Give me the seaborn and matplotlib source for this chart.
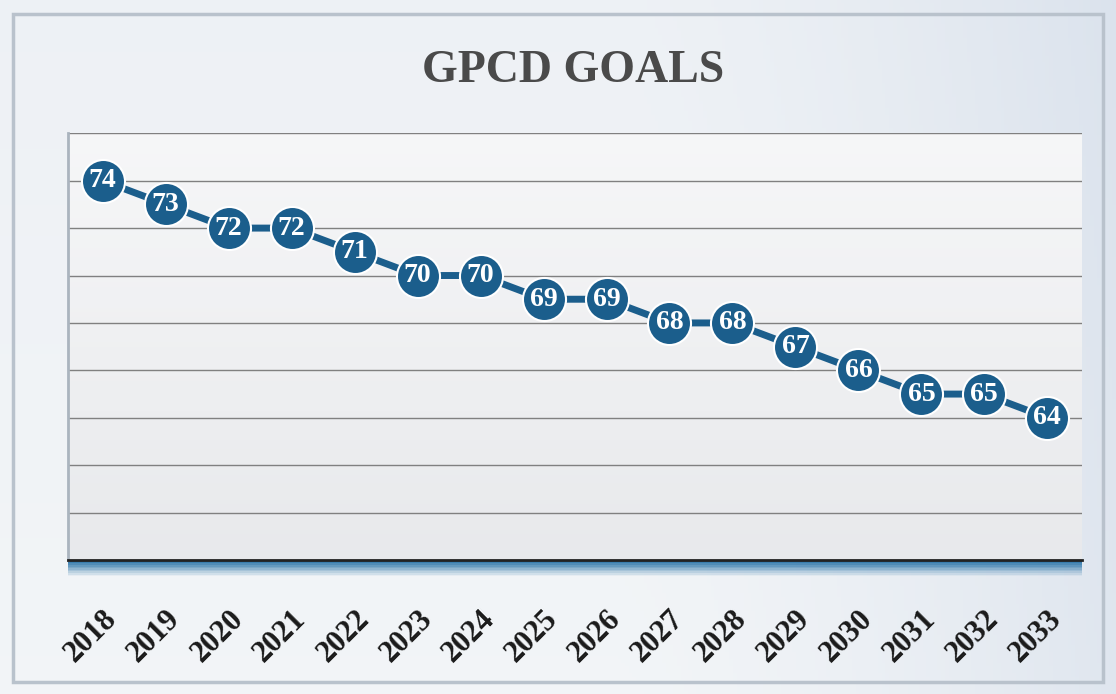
import numpy as np
import pandas as pd
import matplotlib
matplotlib.use("Agg")
import matplotlib.pyplot as plt
from matplotlib.patches import Rectangle
import seaborn as sns

# ---- data ----
years = [2018, 2019, 2020, 2021, 2022, 2023, 2024, 2025,
         2026, 2027, 2028, 2029, 2030, 2031, 2032, 2033]
gpcd = [74, 73, 72, 72, 71, 70, 70, 69, 69, 68, 68, 67, 66, 65, 65, 64]
year_labels = [str(y) for y in years]
title = "GPCD GOALS"

df = pd.DataFrame({"year": years, "gpcd": gpcd})

sns.set_theme(style="white")
plt.rcParams['font.family'] = ['Liberation Serif', 'DejaVu Serif']

fig = plt.figure(figsize=(11.16, 6.94), dpi=100)
fig.patch.set_facecolor('#dde3ea')

# background gradient panel
bg = fig.add_axes([0, 0, 1, 1], zorder=-10)
bg.set_axis_off()
gx = np.linspace(0, 1, 300)
gy = np.linspace(0, 1, 200)
X, Y = np.meshgrid(gx, gy)
base = np.array([0.95, 0.96, 0.97])
right = np.array([0.86, 0.89, 0.93])
w = np.clip((X - 0.55) / 0.45, 0, 1) ** 1.5 * 0.8 + 0.2 * Y
img = base[None, None, :] * (1 - w[..., None]) + right[None, None, :] * w[..., None]
bg.imshow(img, extent=[0, 1, 0, 1], aspect='auto', origin='lower')
bg.add_patch(Rectangle((0.012, 0.018), 0.976, 0.962, transform=bg.transAxes,
                       fill=False, edgecolor='#b9c2cc', linewidth=2.5))
bg.set_xlim(0, 1); bg.set_ylim(0, 1)

ax = fig.add_axes([0.061, 0.193, 0.9085, 0.615])
ax.set_facecolor('none')

# plot area gradient
pimg = np.linspace(0, 1, 100)[:, None] * np.ones((1, 10))
pcol = np.array([0.965, 0.967, 0.972])[None, None, :] * (pimg[..., None]) + \
       np.array([0.91, 0.915, 0.925])[None, None, :] * (1 - pimg[..., None])
ax.imshow(pcol, extent=[0, 1, 0, 1], transform=ax.transAxes, aspect='auto',
          origin='lower', zorder=-5)

sns.lineplot(data=df, x="year", y="gpcd", ax=ax, color='#1b5e8c',
             linewidth=5, marker='o', markersize=31,
             markerfacecolor='#1b5e8c', markeredgecolor='white',
             markeredgewidth=1.5, zorder=5)

for xv, yv in zip(df["year"], df["gpcd"]):
    ax.text(xv, yv, str(yv), ha='center', va='center', color='white',
            fontsize=20, fontweight='bold', zorder=6)

ax.set_xlim(years[0] - 0.55, years[-1] + 0.55)
ax.set_ylim(58, 76)
ax.set_yticks(np.arange(58, 77, 2))
ax.set_yticklabels([])
ax.yaxis.grid(True, color='#808080', linewidth=1.0)
ax.xaxis.grid(False)
ax.tick_params(axis='y', length=0)
ax.set_xticks(years)
ax.set_xticklabels(year_labels, rotation=45, ha='right', rotation_mode='anchor',
                   fontsize=22, fontweight='bold', color='#1a1a1a')
ax.tick_params(axis='x', length=0, pad=32)
ax.set_xlabel('')
ax.set_ylabel('')
for side in ['top', 'right']:
    ax.spines[side].set_visible(False)
ax.spines['left'].set_color('#aab4be')
ax.spines['left'].set_linewidth(2)
ax.spines['bottom'].set_color('#222222')
ax.spines['bottom'].set_linewidth(2)

# blue shadow under plot area
for i, a in enumerate(np.linspace(0.95, 0.05, 10)):
    ax.add_patch(Rectangle((0, -0.004 - i * 0.0038), 1, 0.0038,
                           transform=ax.transAxes, facecolor='#1a6aa2',
                           alpha=a, edgecolor='none', clip_on=False, zorder=-1))

fig.text(0.514, 0.897, title, ha='center', va='center', fontsize=33,
         fontweight='bold', color='#4a4a4a')

fig.savefig('out.png', dpi=100, facecolor=fig.get_facecolor())
